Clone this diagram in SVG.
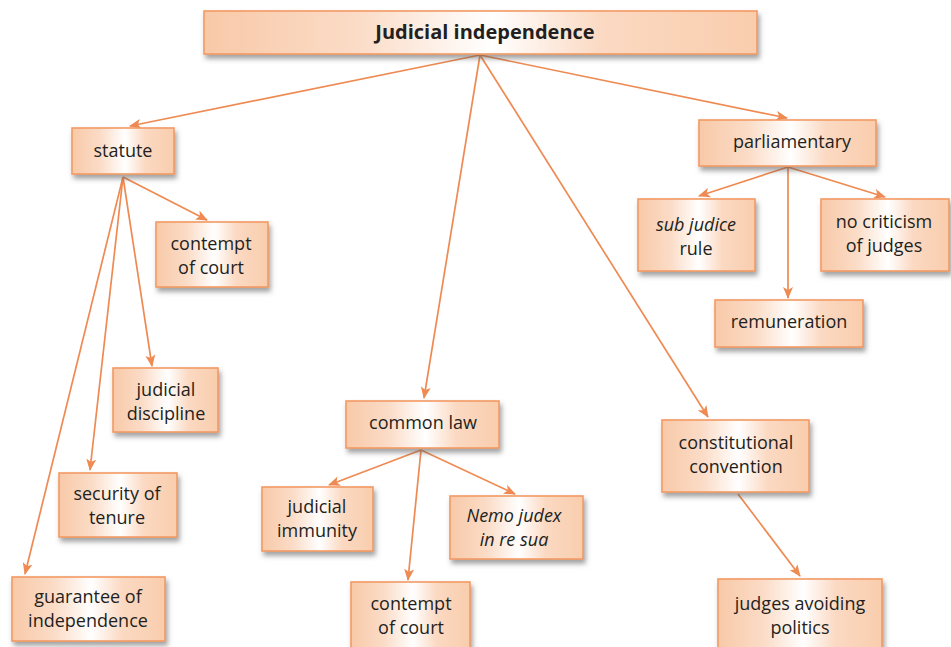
<svg xmlns="http://www.w3.org/2000/svg" width="951" height="647" viewBox="0 0 951 647">
  <defs>
    <linearGradient id="boxFill" x1="0" y1="0" x2="1" y2="0">
      <stop offset="0" stop-color="#f8c9a8"/>
      <stop offset="0.28" stop-color="#fbdcc7"/>
      <stop offset="0.52" stop-color="#ffffff"/>
      <stop offset="0.72" stop-color="#fbd9c2"/>
      <stop offset="1" stop-color="#f9cdad"/>
    </linearGradient>
    <filter id="shadow" x="-10%" y="-10%" width="130%" height="140%">
      <feDropShadow dx="2" dy="4" stdDeviation="2.5" flood-color="#555555" flood-opacity="0.55"/>
    </filter>
    <marker id="arrow" viewBox="0 0 12 10" refX="11" refY="5" markerWidth="12" markerHeight="10" markerUnits="userSpaceOnUse" orient="auto">
      <path d="M0,0 L12,5 L0,10 L3,5 z" fill="#ee8a52"/>
    </marker>
  </defs>
  <style>
    .box { fill: url(#boxFill); stroke: #f39a63; stroke-width: 1.6; filter: url(#shadow); }
    .lbl { font-family: "Open Sans", "Noto Sans", sans-serif; font-size: 18px; fill: #231f20; text-anchor: middle; }
    .it { font-style: italic; }
    .title { font-weight: bold; font-size: 20px; }
    .conn line { stroke: #ee8a52; stroke-width: 1.7; marker-end: url(#arrow); }
  </style>

  <rect width="951" height="647" fill="#ffffff"/>

  <!-- connectors -->
  <g id="connectors" class="conn">
    <line x1="480" y1="55" x2="130" y2="126"/>
    <line x1="480" y1="55" x2="787" y2="118"/>
    <line x1="480" y1="55" x2="424" y2="398"/>
    <line x1="480" y1="55" x2="708" y2="417"/>
    <line x1="123" y1="177" x2="207" y2="220"/>
    <line x1="123" y1="177" x2="152" y2="366"/>
    <line x1="123" y1="177" x2="90" y2="470"/>
    <line x1="123" y1="177" x2="25" y2="574"/>
    <line x1="788" y1="167" x2="699" y2="196"/>
    <line x1="788" y1="167" x2="788" y2="298"/>
    <line x1="788" y1="167" x2="885" y2="197"/>
    <line x1="421" y1="450" x2="329" y2="485"/>
    <line x1="421" y1="450" x2="408" y2="580"/>
    <line x1="421" y1="450" x2="515" y2="494"/>
    <line x1="738" y1="494" x2="800" y2="576"/>
  </g>

  <!-- nodes -->
  <g id="judicial-independence">
    <rect class="box" x="204" y="11" width="553" height="43"/>
    <text class="lbl title" x="485" y="39">Judicial independence</text>
  </g>
  <g id="statute">
    <rect class="box" x="72" y="128" width="102" height="46"/>
    <text class="lbl" x="123" y="157">statute</text>
  </g>
  <g id="contempt-statute">
    <rect class="box" x="156" y="222" width="112" height="65"/>
    <text class="lbl" x="211" y="250">contempt</text>
    <text class="lbl" x="211" y="274">of court</text>
  </g>
  <g id="judicial-discipline">
    <rect class="box" x="113" y="368" width="105" height="64"/>
    <text class="lbl" x="166" y="396">judicial</text>
    <text class="lbl" x="166" y="420">discipline</text>
  </g>
  <g id="security-of-tenure">
    <rect class="box" x="59" y="473" width="118" height="64"/>
    <text class="lbl" x="117" y="500">security of</text>
    <text class="lbl" x="117" y="524">tenure</text>
  </g>
  <g id="guarantee-of-independence">
    <rect class="box" x="12" y="577" width="153" height="64"/>
    <text class="lbl" x="88" y="603">guarantee of</text>
    <text class="lbl" x="88" y="627">independence</text>
  </g>
  <g id="parliamentary">
    <rect class="box" x="699" y="120" width="177" height="46"/>
    <text class="lbl" x="792" y="148">parliamentary</text>
  </g>
  <g id="sub-judice">
    <rect class="box" x="638" y="199" width="117" height="72"/>
    <text class="lbl it" x="696" y="231">sub judice</text>
    <text class="lbl" x="696" y="255">rule</text>
  </g>
  <g id="no-criticism">
    <rect class="box" x="821" y="199" width="128" height="72"/>
    <text class="lbl" x="884" y="228">no criticism</text>
    <text class="lbl" x="884" y="252">of judges</text>
  </g>
  <g id="remuneration">
    <rect class="box" x="715" y="300" width="148" height="47"/>
    <text class="lbl" x="789" y="328">remuneration</text>
  </g>
  <g id="common-law">
    <rect class="box" x="346" y="401" width="153" height="47"/>
    <text class="lbl" x="423" y="429">common law</text>
  </g>
  <g id="judicial-immunity">
    <rect class="box" x="262" y="487" width="111" height="64"/>
    <text class="lbl" x="317" y="513">judicial</text>
    <text class="lbl" x="317" y="537">immunity</text>
  </g>
  <g id="nemo-judex">
    <rect class="box" x="450" y="496" width="133" height="63"/>
    <text class="lbl it" x="514" y="522">Nemo judex</text>
    <text class="lbl it" x="514" y="546">in re sua</text>
  </g>
  <g id="contempt-common-law">
    <rect class="box" x="351" y="582" width="119" height="70"/>
    <text class="lbl" x="411" y="610">contempt</text>
    <text class="lbl" x="411" y="634">of court</text>
  </g>
  <g id="constitutional-convention">
    <rect class="box" x="662" y="420" width="147" height="72"/>
    <text class="lbl" x="736" y="449">constitutional</text>
    <text class="lbl" x="736" y="473">convention</text>
  </g>
  <g id="judges-avoiding-politics">
    <rect class="box" x="718" y="579" width="164" height="73"/>
    <text class="lbl" x="800" y="610">judges avoiding</text>
    <text class="lbl" x="800" y="634">politics</text>
  </g>
</svg>
